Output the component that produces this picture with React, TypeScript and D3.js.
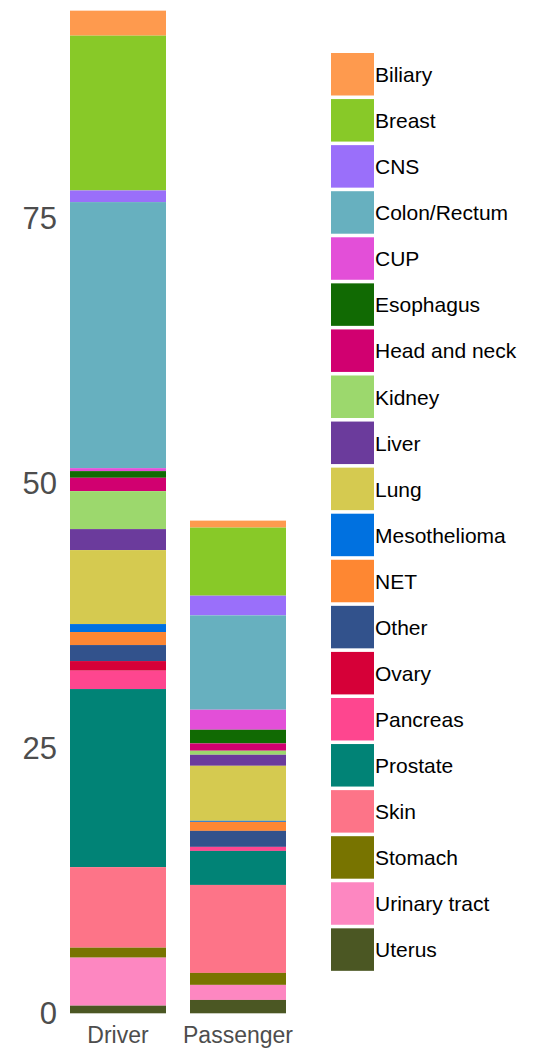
import React from "react";
import * as d3 from "d3";

const categories = [
  "Biliary", "Breast", "CNS", "Colon/Rectum", "CUP", "Esophagus", "Head and neck",
  "Kidney", "Liver", "Lung", "Mesothelioma", "NET", "Other", "Ovary", "Pancreas",
  "Prostate", "Skin", "Stomach", "Urinary tract", "Uterus",
];
const colors = [
  "#FE9A4E", "#88C928", "#9A6FFA", "#67B0BF", "#E34FD8", "#116A03", "#D10070",
  "#9CD86D", "#6B3B9C", "#D5CA50", "#0071E0", "#FE8732", "#32528C", "#D60038",
  "#FE468F", "#018376", "#FD7488", "#787400", "#FD87C1", "#4B5723",
];
const groups = ["Driver", "Passenger"];
const driverValues = [
  2.36, 14.6, 1.1, 25.1, 0.28, 0.63, 1.26, 3.58, 1.98, 6.98, 0.75, 1.23, 1.51, 0.91,
  1.73, 16.8, 7.6, 0.94, 4.53, 0.72,
];
const passengerValues = [
  0.66, 6.42, 1.86, 8.9, 1.89, 1.29, 0.69, 0.38, 1.04, 5.19, 0.1, 0.85, 1.51, 0,
  0.38, 3.21, 8.3, 1.13, 1.42, 1.26,
];
const yTicks = [0, 25, 50, 75];

const FONT = "'Liberation Sans', Arial, Helvetica, sans-serif";

export default function App() {
  const W = 534, H = 1060;
  const rows = groups.map((g, gi) => {
    const r: any = { group: g };
    const vals = gi === 0 ? driverValues : passengerValues;
    categories.forEach((c, i) => (r[c] = vals[i]));
    return r;
  });
  const series = d3.stack<any>().keys(categories).order(d3.stackOrderReverse)(rows);
  const x = d3.scaleBand().domain(groups).range([58, 298]).paddingInner(0.2).paddingOuter(0.1);
  const y = d3.scaleLinear().domain([0, 75]).range([1013.3, 218.3]);
  const color = d3.scaleOrdinal<string, string>().domain(categories).range(colors);
  const legY = (i: number) => 53 + i * 46.07;

  return (
    <svg width={W} height={H} style={{ position: "absolute", left: 0, top: 0, background: "#fff" }}
      fontFamily={FONT}>
      {series.map((s) => (
        <g key={s.key} fill={color(s.key)}>
          {s.map((d, j) => (
            <rect key={j} x={x(groups[j])} width={x.bandwidth()}
              y={y(d[1])} height={Math.max(0, y(d[0]) - y(d[1]))} />
          ))}
        </g>
      ))}
      {yTicks.map((t) => (
        <text key={t} x={57} y={y(t)} dy="0.36em" textAnchor="end" fontSize={31} fill="#4D4D4D">
          {t}
        </text>
      ))}
      {groups.map((g) => (
        <text key={g} x={(x(g) as number) + x.bandwidth() / 2} y={1043} textAnchor="middle"
          fontSize={23} fill="#4D4D4D">
          {g}
        </text>
      ))}
      {categories.map((c, i) => (
        <g key={c}>
          <rect x={331} y={legY(i)} width={43} height={42.5} fill={color(c)} />
          <text x={375} y={legY(i) + 21.5} dy="0.36em" fontSize={21} fill="#000">
            {c}
          </text>
        </g>
      ))}
    </svg>
  );
}
